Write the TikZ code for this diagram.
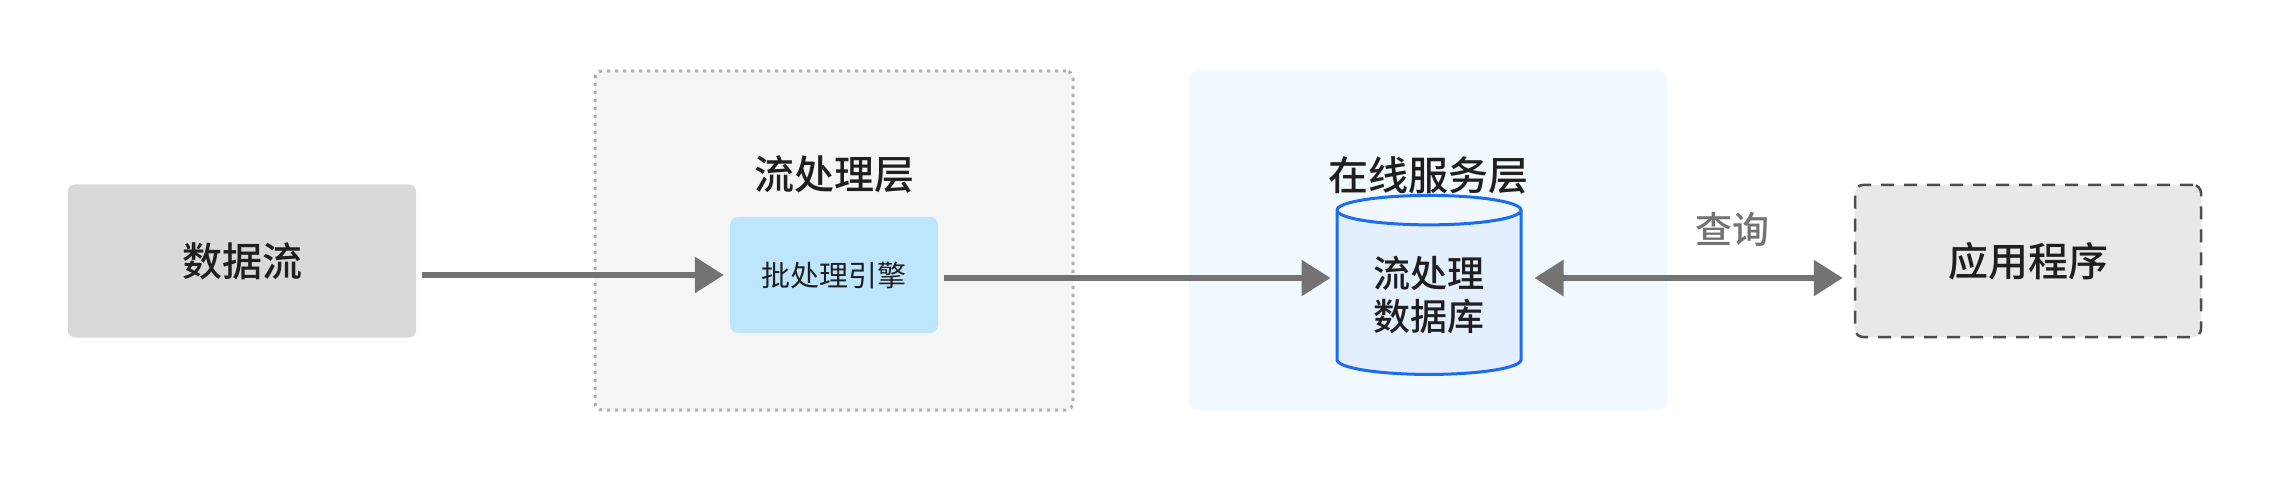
\documentclass[tikz,border=0pt]{standalone}
\usepackage{fontspec}
\setmainfont{Noto Sans CJK SC}
\newfontfamily\mediumfont{Noto Sans CJK SC Medium}
\usepackage{tikz}
\usetikzlibrary{arrows.meta, positioning, shapes.geometric}
\definecolor{boxgray}{HTML}{D9D9D9}
\definecolor{layergray}{HTML}{F5F5F5}
\definecolor{layerblue}{HTML}{F2F9FE}
\definecolor{enginefill}{HTML}{BDE6FE}
\definecolor{dbline}{HTML}{1A6DF0}
\definecolor{dbfill}{HTML}{E3EEFE}
\definecolor{dbtop}{HTML}{F0F7FF}
\definecolor{appgray}{HTML}{E8E8E8}
\definecolor{appline}{HTML}{4D4D4D}
\definecolor{dotgray}{HTML}{ADADAD}
\definecolor{arrowgray}{HTML}{737373}
\definecolor{textdark}{HTML}{1F1F1F}
\tikzstyle{arrow} = [line width=6pt, draw=arrowgray, -{Triangle[length=29pt,width=35pt]}]
\tikzstyle{dblarrow} = [line width=6pt, draw=arrowgray, {Triangle[length=29pt,width=35pt]}-{Triangle[length=29pt,width=35pt]}]
\tikzstyle{source} = [rectangle, rounded corners=7pt, fill=boxgray, minimum width=348pt, minimum height=153pt, text=textdark, font=\mediumfont\fontsize{40pt}{48pt}\selectfont]
\tikzstyle{layer} = [rectangle, rounded corners=7pt, minimum width=478pt, minimum height=339pt]
\tikzstyle{title} = [text=textdark, font=\mediumfont\fontsize{40pt}{48pt}\selectfont]
\tikzstyle{engine} = [rectangle, rounded corners=8pt, fill=enginefill, minimum width=208pt, minimum height=116pt, text=textdark, font=\fontsize{29pt}{35pt}\selectfont]
\tikzset{
	database/.style = {cylinder, shape border rotate=90, aspect=0.25,
		draw=dbline, line width=3pt,
		cylinder uses custom fill, cylinder body fill=dbfill, cylinder end fill=dbtop,
		minimum width=184pt, minimum height=179pt,
		align=center, text=textdark, font=\mediumfont\fontsize{37pt}{43pt}\selectfont},
	client/.style = {rectangle, rounded corners=8pt, fill=appgray, draw=appline,
		line width=2.5pt, dash pattern=on 13pt off 10pt,
		minimum width=346pt, minimum height=152pt,
		text=textdark, font=\mediumfont\fontsize{40pt}{48pt}\selectfont}
}

\begin{document}
\begin{tikzpicture}[x=1pt, y=-1pt]
\useasboundingbox (0,0) rectangle (2270,494);
%----------------------------------------------------------------------------
% Layers
\node (streamLayer) [layer, fill=layergray, draw=dotgray, line width=3pt, dash pattern=on 3pt off 5pt] at (834,240.5) {};
\node (servingLayer) [layer, fill=layerblue] at (1428,240.5) {};
\node (streamTitle) [title] at ([yshift=-105pt]streamLayer.north) {流处理层};
\node (servingTitle) [title] at ([yshift=-105pt]servingLayer.north) {在线服务层};

%----------------------------------------------------------------------------
% Placement of nodes
\node (dataStream) [source] at (242,261) {数据流};
\node (batchEngine) [engine] at (834,275) {批处理引擎};
\node (streamDB) [database] at (1429,295) {流处理\\数据库};
\node (application) [client] at (2028,261) {应用程序};

%----------------------------------------------------------------------------
% Draw lines
\draw [arrow, shorten <=6pt, shorten >=6pt] (dataStream.east |- batchEngine.west) -- (batchEngine.west);
\coordinate (dbIn) at ([yshift=-3pt]batchEngine.east);
\draw [arrow, shorten <=6pt, shorten >=5pt] (dbIn) -- (dbIn -| streamDB.west);

\coordinate (queryL) at (dbIn -| streamDB.east);
\coordinate (queryR) at (queryL -| application.west);
\draw [dblarrow, shorten <=12pt, shorten >=11pt] (queryL) -- node[pos=0.635, yshift=49pt, text=arrowgray, font=\mediumfont\fontsize{37pt}{44pt}\selectfont] (query) {查询} (queryR);

\end{tikzpicture}
\end{document}
